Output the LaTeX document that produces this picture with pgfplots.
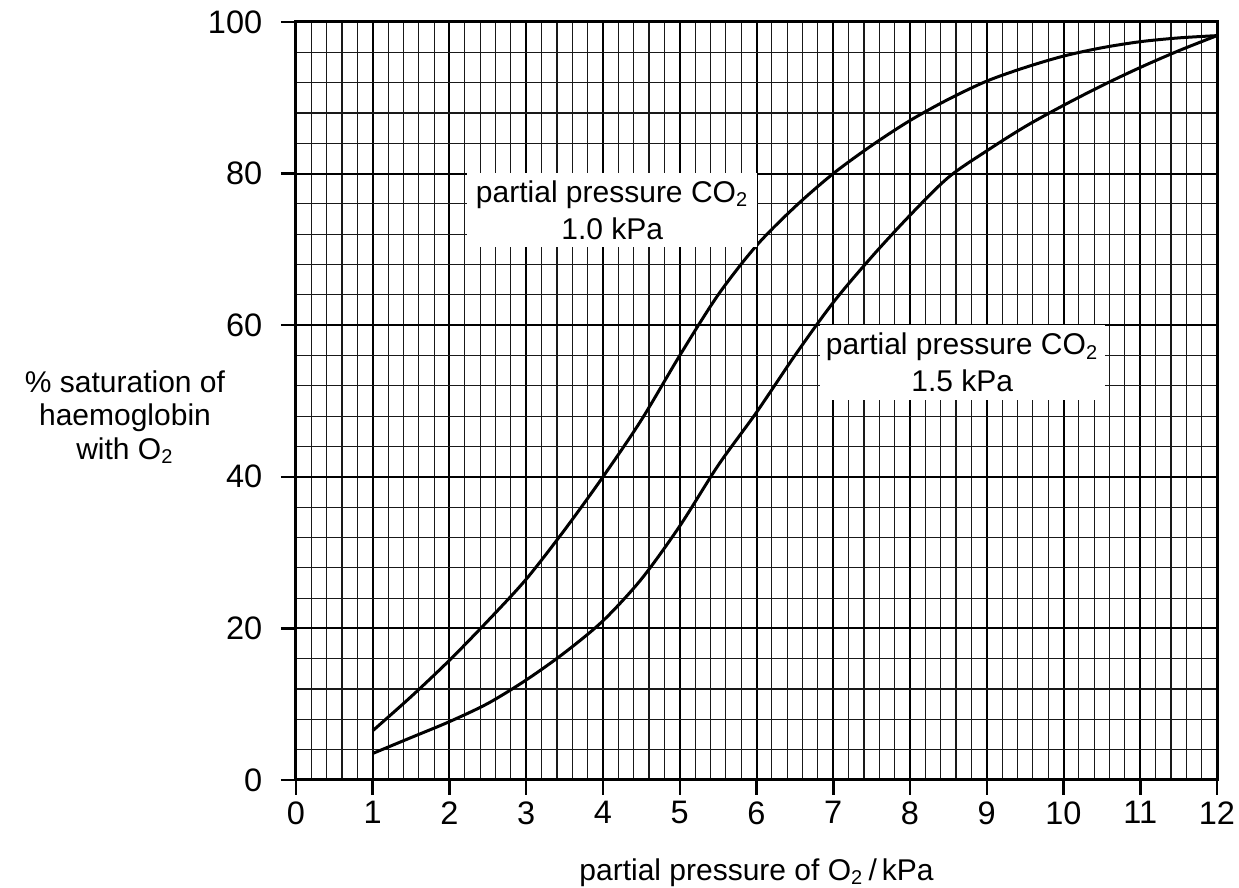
\documentclass[border=0pt]{standalone}
\usepackage{pgfplots}
\pgfplotsset{compat=1.18}
\usepackage{fontspec}
\setmainfont{Liberation Sans}

\begin{document}
\begin{tikzpicture}
\begin{axis}[
    scale only axis,
    width=368.4pt,
    height=303.2pt,
    xmin=0, xmax=12,
    ymin=0, ymax=100,
    xtick={0,1,...,12},
    ytick={0,20,...,100},
    minor x tick num=4,
    minor y tick num=4,
    grid=both,
    major grid style={black, line width=0.8pt},
    minor grid style={black!90, line width=0.45pt},
    axis line style={black, line width=1.2pt},
    tick align=outside,
    xtick pos=left, ytick pos=left,
    major tick length=6pt,
    minor tick length=0pt,
    tick style={black, line width=1pt},
    ticklabel style={font=\fontsize{13}{15}\selectfont},
    /pgf/number format/assume math mode=true,
    xticklabel style={yshift=1pt},
    yticklabel style={xshift=-4pt},
    clip=false,
]
\path (rel axis cs:0,0) coordinate (bl) (rel axis cs:1,1) coordinate (tr);

\addplot[black, line width=1.2pt, smooth, tension=0.5] coordinates {
 (1,6.5) (1.5,11) (2,15.8) (2.5,21) (3,26.5) (3.5,33) (4,40) (4.5,47.5)
 (5,56) (5.5,64) (6,70.5) (6.5,75.6) (7,80) (7.5,83.7) (8,87) (8.5,89.8)
 (9,92.2) (9.5,94) (10,95.5) (10.5,96.6) (11,97.4) (11.5,97.9) (12,98.2)
};
\addplot[black, line width=1.2pt, smooth, tension=0.5] coordinates {
 (1,3.5) (1.5,5.6) (2,7.7) (2.5,10.1) (3,13.2) (3.5,16.8) (4,21) (4.5,26.5)
 (5,33.5) (5.5,41.5) (6,48.5) (6.5,56) (7,63) (7.5,69) (8,74.5) (8.5,79.5)
 (9,83) (9.5,86.2) (10,89) (10.5,91.6) (11,94) (11.5,96.2) (12,98.2)
};

\node[fill=white, inner sep=0pt, minimum width=116pt, minimum height=29.6pt,
      align=center, font=\fontsize{12}{14.8}\selectfont]
  at (axis cs:4.12,75.2) {partial pressure CO\textsubscript{2}\\1.0 kPa};
\node[fill=white, inner sep=0pt, minimum width=114pt, minimum height=30pt,
      align=center, font=\fontsize{12}{14.8}\selectfont]
  at (axis cs:8.68,55.1) {partial pressure CO\textsubscript{2}\\1.5 kPa};

\node[align=center, font=\fontsize{12}{13.4}\selectfont]
  at ([xshift=-68.4pt]axis cs:0,47.9) {\% saturation of\\haemoglobin\\with O\textsubscript{2}};
\node[font=\fontsize{12}{14}\selectfont]
  at ([yshift=-37pt]axis cs:6,0) {partial pressure of O\textsubscript{2}\,/\,kPa};
\end{axis}
\pgfresetboundingbox
\path ([xshift=-118.4pt,yshift=-43.2pt]bl) rectangle ([xshift=8.8pt,yshift=8.8pt]tr);
\end{tikzpicture}
\end{document}
